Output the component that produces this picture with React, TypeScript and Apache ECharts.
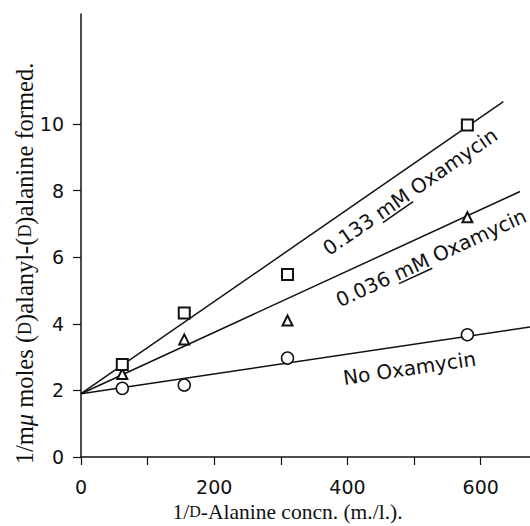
import React, { useEffect, useRef } from "react";
import * as echarts from "echarts";

// ---- data ----
const xValues = [62, 155, 310, 580]; // 1/D-Alanine concn. (m./l.)
const noOxamycin = [2.06, 2.16, 2.97, 3.67];
const oxamycin036 = [2.49, 3.53, 4.1, 7.2];
const oxamycin133 = [2.78, 4.32, 5.48, 9.97];

// fitted straight lines: common intercept, end points
const fitIntercept = 1.9;
const fitEndX = [674, 659, 634];
const fitEndY = [3.9, 7.97, 10.67];

// curve label texts (prefix, underlined part, suffix)
const labelPrefix = ["No Oxamycin", "0.036 ", "0.133 "];
const labelUnderlined = ["", "mM", "mM"];
const labelSuffix = ["", " Oxamycin", " Oxamycin"];

// ticks
const xTickValues = [0, 100, 200, 300, 400, 500, 600];
const xTickLabels = [0, 200, 400, 600];
const yTickLabels = [0, 2, 4, 6, 8, 10];

// ---- layout constants (not data) ----
const LABEL_ALONG_X = [488, 511, 476];
const LABEL_OFFSET = [23, 23, 21];
const INK = "#111";
const SANS = '"DejaVu Sans", sans-serif';
const SERIF = '"Liberation Serif", "Times New Roman", serif';
const LABEL_FS = 20;

export default function App() {
  const ref = useRef<HTMLDivElement>(null);

  useEffect(() => {
    if (!ref.current) return;
    const chart = echarts.init(ref.current, undefined, { renderer: "svg" });

    const fitLines = [noOxamycin, oxamycin036, oxamycin133].map((_, i) => ({
      type: "line",
      data: [
        [0, fitIntercept],
        [fitEndX[i], fitEndY[i]],
      ],
      symbol: "none",
      lineStyle: { color: INK, width: 1.5 },
      z: 2,
      silent: true,
    }));

    const scatter = (vals: number[], symbol: string, size: number, bw: number) => ({
      type: "scatter",
      data: vals.map((v, i) => [xValues[i], v]),
      symbol,
      symbolSize: size,
      itemStyle: { color: "#fff", borderColor: INK, borderWidth: bw, opacity: 1 },
      z: 5,
    });

    chart.setOption({
      animation: false,
      backgroundColor: "#fff",
      grid: {
        left: 81,
        right: 0,
        top: 14,
        bottom: 69,
        containLabel: false,
        outerBoundsMode: "none",
      },
      xAxis: {
        type: "value",
        min: 0,
        max: 674,
        interval: 100,
        name: "{n|1/}{s|D}{n|-Alanine concn. (m./l.).}",
        nameLocation: "middle",
        nameGap: 42,
        nameTextStyle: {
          padding: [0, 36, 0, 0],
          rich: {
            n: { fontFamily: SERIF, fontSize: 21.5, color: INK, lineHeight: 22 },
            s: { fontFamily: SERIF, fontSize: 16, color: INK, lineHeight: 22 },
          },
        },
        axisLine: { lineStyle: { color: INK, width: 1.5 } },
        axisTick: { customValues: xTickValues, length: 8, lineStyle: { color: INK, width: 1.2 } },
        axisLabel: {
          customValues: xTickLabels,
          fontFamily: SANS,
          fontSize: 19,
          color: INK,
          margin: 20,
        },
        splitLine: { show: false },
      },
      yAxis: {
        type: "value",
        min: 0,
        max: 13.3,
        interval: 2,
        name: "{n|1/m}{i|μ}{n| moles (}{s|D}{n|)alanyl-(}{s|D}{n|)alanine formed.}",
        nameLocation: "middle",
        nameRotate: 90,
        nameGap: 44,
        nameMoveOverlap: false,
        nameTextStyle: {
          padding: [0, 56, 0, 0],
          rich: {
            n: { fontFamily: SERIF, fontSize: 24.5, color: INK },
            i: { fontFamily: SERIF, fontSize: 24.5, fontStyle: "italic", color: INK },
            s: { fontFamily: SERIF, fontSize: 18, color: INK },
          },
        },
        axisLine: { lineStyle: { color: INK, width: 1.5 } },
        axisTick: { customValues: yTickLabels, length: 8, lineStyle: { color: INK, width: 1.2 } },
        axisLabel: {
          customValues: yTickLabels,
          fontFamily: SANS,
          fontSize: 19,
          color: INK,
          margin: 17,
        },
        splitLine: { show: false },
      },
      series: [
        ...fitLines,
        scatter(noOxamycin, "circle", 12, 1.5),
        scatter(oxamycin036, "triangle", 10, 2),
        scatter(oxamycin133, "rect", 11, 2),
      ],
    });

    // curve labels placed along their fitted lines
    const canvas = document.createElement("canvas");
    const ctx = canvas.getContext("2d")!;
    ctx.font = `${LABEL_FS}px "DejaVu Sans"`;
    const graphics: any[] = [];
    for (let i = 0; i < 3; i++) {
      const p0 = chart.convertToPixel({ gridIndex: 0 }, [0, fitIntercept]) as number[];
      const p1 = chart.convertToPixel({ gridIndex: 0 }, [fitEndX[i], fitEndY[i]]) as number[];
      const theta = Math.atan2(-(p1[1] - p0[1]), p1[0] - p0[0]);
      const slope = (fitEndY[i] - fitIntercept) / fitEndX[i];
      const xa = LABEL_ALONG_X[i];
      const p = chart.convertToPixel({ gridIndex: 0 }, [xa, fitIntercept + slope * xa]) as number[];
      const cx = p[0] + LABEL_OFFSET[i] * Math.sin(theta);
      const cy = p[1] + LABEL_OFFSET[i] * Math.cos(theta);
      const full = labelPrefix[i] + labelUnderlined[i] + labelSuffix[i];
      const wFull = ctx.measureText(full).width;
      const wPre = ctx.measureText(labelPrefix[i]).width;
      const wU = ctx.measureText(labelUnderlined[i]).width;
      const children: any[] = [
        {
          type: "text",
          x: 0,
          y: 0,
          style: {
            text: full,
            fontFamily: "DejaVu Sans",
            fontSize: LABEL_FS,
            fill: INK,
            textAlign: "center",
            textVerticalAlign: "middle",
            align: "center",
            verticalAlign: "middle",
          },
        },
      ];
      if (labelUnderlined[i]) {
        const x1 = -wFull / 2 + wPre;
        children.push({
          type: "line",
          shape: { x1, y1: LABEL_FS * 0.5, x2: x1 + wU, y2: LABEL_FS * 0.5 },
          style: { stroke: INK, lineWidth: 1.5 },
        });
      }
      graphics.push({ type: "group", x: cx, y: cy, rotation: theta, children, z: 10 });
    }
    chart.setOption({ graphic: graphics });

    return () => chart.dispose();
  }, []);

  return (
    <div
      ref={ref}
      style={{ position: "fixed", left: 0, top: 0, width: 530, height: 526, background: "#fff" }}
    />
  );
}
